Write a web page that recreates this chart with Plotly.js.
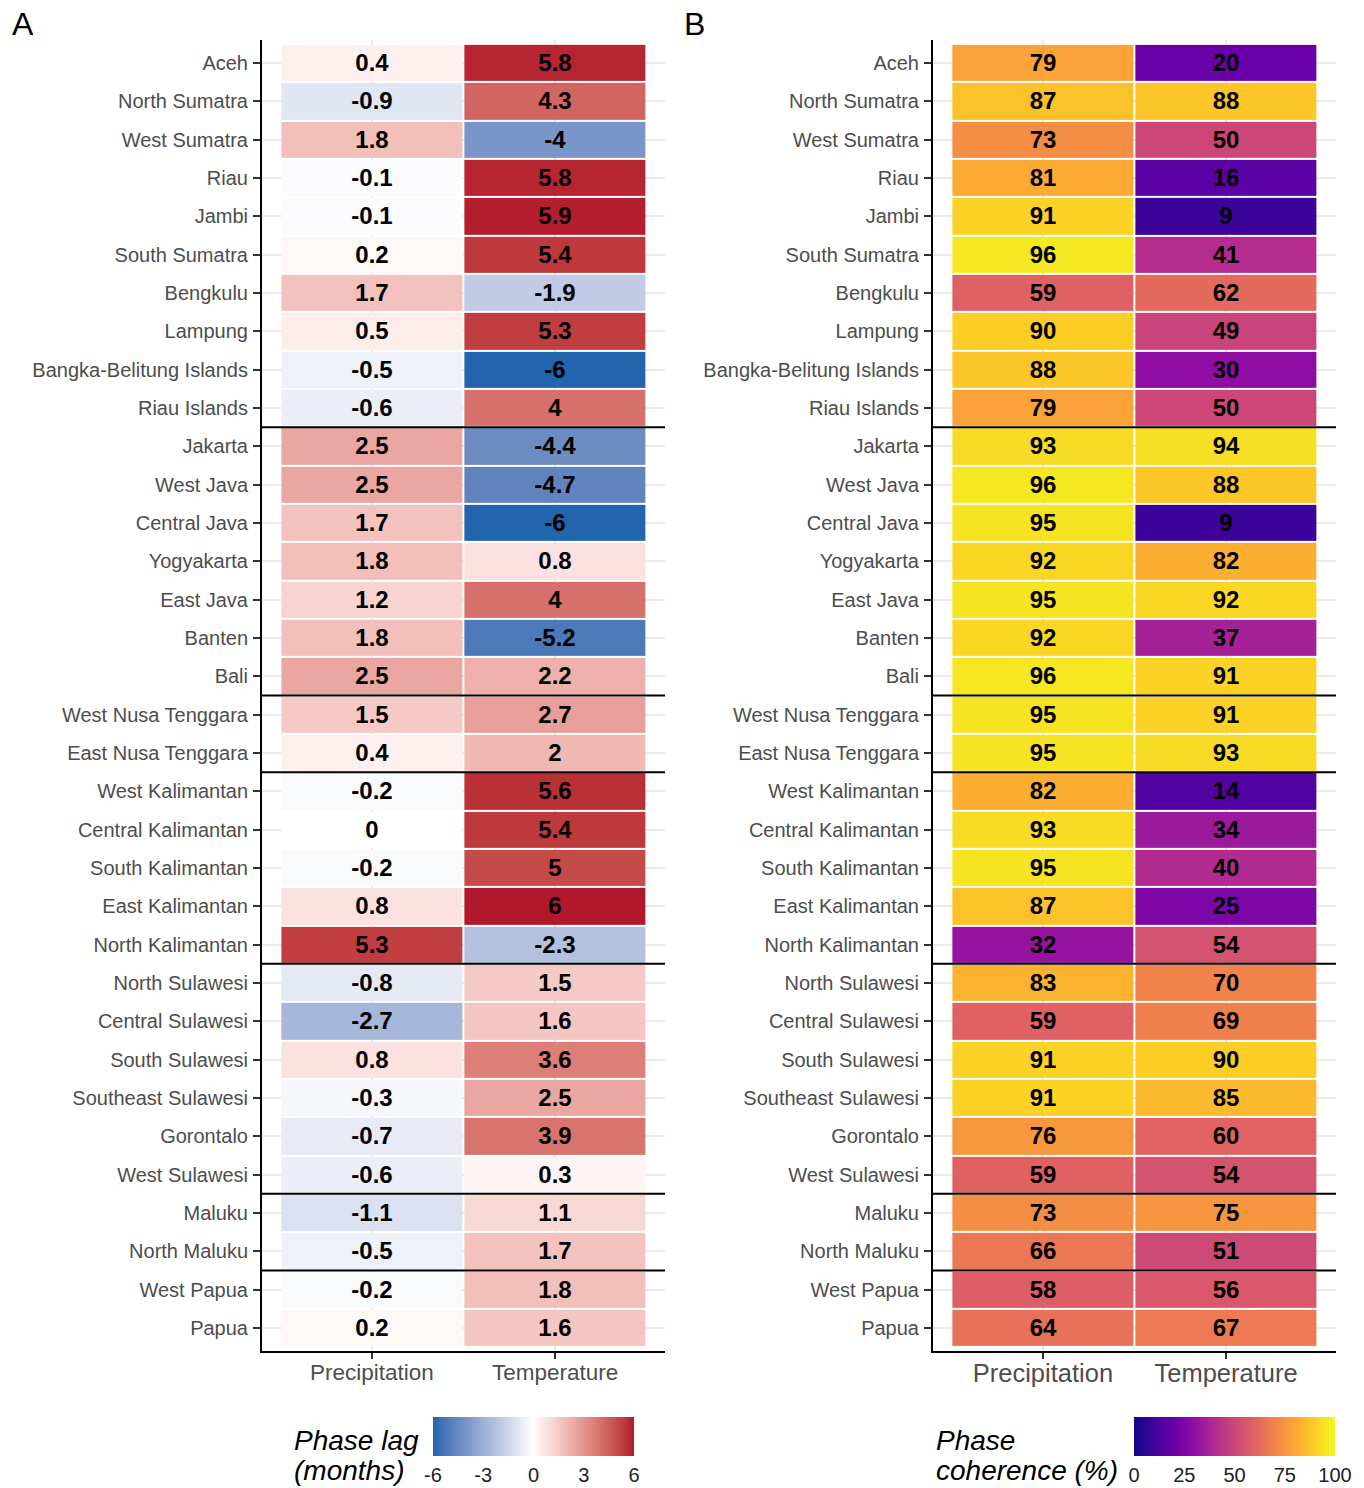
<!DOCTYPE html>
<html>
<head>
<meta charset="utf-8">
<script src="https://cdn.plot.ly/plotly-3.0.1.min.js"></script>
<style>
  html, body { margin: 0; padding: 0; background: #ffffff; }
  #chart { width: 1364px; height: 1488px; }
</style>
</head>
<body>
<div id="chart"></div>
<script>
// Provinces, top to bottom
const provinces = [
  'Aceh', 'North Sumatra', 'West Sumatra', 'Riau', 'Jambi', 'South Sumatra',
  'Bengkulu', 'Lampung', 'Bangka-Belitung Islands', 'Riau Islands',
  'Jakarta', 'West Java', 'Central Java', 'Yogyakarta', 'East Java', 'Banten', 'Bali',
  'West Nusa Tenggara', 'East Nusa Tenggara',
  'West Kalimantan', 'Central Kalimantan', 'South Kalimantan', 'East Kalimantan', 'North Kalimantan',
  'North Sulawesi', 'Central Sulawesi', 'South Sulawesi', 'Southeast Sulawesi', 'Gorontalo', 'West Sulawesi',
  'Maluku', 'North Maluku',
  'West Papua', 'Papua'
];

const variables = ['Precipitation', 'Temperature'];

// Phase lag (months)
const lagPrecipitation = [
  0.4, -0.9, 1.8, -0.1, -0.1, 0.2, 1.7, 0.5, -0.5, -0.6,
  2.5, 2.5, 1.7, 1.8, 1.2, 1.8, 2.5,
  1.5, 0.4,
  -0.2, 0, -0.2, 0.8, 5.3,
  -0.8, -2.7, 0.8, -0.3, -0.7, -0.6,
  -1.1, -0.5,
  -0.2, 0.2
];
const lagTemperature = [
  5.8, 4.3, -4, 5.8, 5.9, 5.4, -1.9, 5.3, -6, 4,
  -4.4, -4.7, -6, 0.8, 4, -5.2, 2.2,
  2.7, 2,
  5.6, 5.4, 5, 6, -2.3,
  1.5, 1.6, 3.6, 2.5, 3.9, 0.3,
  1.1, 1.7,
  1.8, 1.6
];

// Phase coherence (%)
const cohPrecipitation = [
  79, 87, 73, 81, 91, 96, 59, 90, 88, 79,
  93, 96, 95, 92, 95, 92, 96,
  95, 95,
  82, 93, 95, 87, 32,
  83, 59, 91, 91, 76, 59,
  73, 66,
  58, 64
];
const cohTemperature = [
  20, 88, 50, 16, 9, 41, 62, 49, 30, 50,
  94, 88, 9, 82, 92, 37, 91,
  91, 93,
  14, 34, 40, 25, 54,
  70, 69, 90, 85, 60, 54,
  75, 51,
  56, 67
];

// Region boundaries (between these row positions)
const regionBreaks = [9.5, 16.5, 18.5, 23.5, 29.5, 31.5];

const lagTicks = [-6, -3, 0, 3, 6];
const cohTicks = [0, 25, 50, 75, 100];

// Plasma palette stops
const plasmaScale = [
  [0.0, '#0d0887'], [0.1, '#41049d'], [0.2, '#6a00a8'], [0.3, '#8f0da4'],
  [0.4, '#b12a90'], [0.5, '#cc4778'], [0.6, '#e16462'], [0.7, '#f2844b'],
  [0.8, '#fca636'], [0.9, '#fcce25'], [1.0, '#f0f921']
];

// ---- diverging colour scale, interpolated in CIE Lab ----
function hexToRgb(h) {
  h = h.replace('#', '');
  return [0, 2, 4].map(i => parseInt(h.substr(i, 2), 16));
}
function srgbToLin(c) { c /= 255; return c <= 0.04045 ? c / 12.92 : Math.pow((c + 0.055) / 1.055, 2.4); }
function linToSrgb(c) { const v = c <= 0.0031308 ? 12.92 * c : 1.055 * Math.pow(c, 1 / 2.4) - 0.055; return Math.max(0, Math.min(255, Math.round(v * 255))); }
const WHITE = [0.95047, 1.0, 1.08883];
function rgbToLab(rgb) {
  const [r, g, b] = rgb.map(srgbToLin);
  const X = r * 0.4124 + g * 0.3576 + b * 0.1805;
  const Y = r * 0.2126 + g * 0.7152 + b * 0.0722;
  const Z = r * 0.0193 + g * 0.1192 + b * 0.9505;
  const f = t => t > 0.008856 ? Math.cbrt(t) : 7.787 * t + 16 / 116;
  const fx = f(X / WHITE[0]), fy = f(Y / WHITE[1]), fz = f(Z / WHITE[2]);
  return [116 * fy - 16, 500 * (fx - fy), 200 * (fy - fz)];
}
function labToRgb(lab) {
  const fy = (lab[0] + 16) / 116, fx = fy + lab[1] / 500, fz = fy - lab[2] / 200;
  const inv = t => t * t * t > 0.008856 ? t * t * t : (t - 16 / 116) / 7.787;
  const X = inv(fx) * WHITE[0], Y = inv(fy) * WHITE[1], Z = inv(fz) * WHITE[2];
  const r = X * 3.2406 + Y * -1.5372 + Z * -0.4986;
  const g = X * -0.9689 + Y * 1.8758 + Z * 0.0415;
  const b = X * 0.0557 + Y * -0.2040 + Z * 1.0570;
  return 'rgb(' + [r, g, b].map(linToSrgb).join(',') + ')';
}
function divergingScale(low, mid, high, n) {
  const L = rgbToLab(hexToRgb(low)), M = rgbToLab(hexToRgb(mid)), H = rgbToLab(hexToRgb(high));
  const out = [];
  for (let i = 0; i <= n; i++) {
    const t = i / n;
    let a, b, u;
    if (t <= 0.5) { a = L; b = M; u = t / 0.5; } else { a = M; b = H; u = (t - 0.5) / 0.5; }
    out.push([t, labToRgb([0, 1, 2].map(k => a[k] + (b[k] - a[k]) * u))]);
  }
  return out;
}
const lagScale = divergingScale('#2166ac', '#ffffff', '#b2182b', 40);

// ---- traces ----
const lagZ = provinces.map((_, i) => [lagPrecipitation[i], lagTemperature[i]]);
const cohZ = provinces.map((_, i) => [cohPrecipitation[i], cohTemperature[i]]);
const toText = z => z.map(row => row.map(v => String(v)));

const cellFont = { family: 'Liberation Sans, Arial, sans-serif', size: 24, color: '#000000', weight: 'bold' };
const W = 1364, H = 1488;

function colorbar(cx, ticks) {
  return {
    orientation: 'h', x: cx / W, xanchor: 'center', y: 1 - 1417 / H, yanchor: 'top',
    len: 201, lenmode: 'pixels', thickness: 39, xpad: 0, ypad: 0,
    outlinewidth: 0, tickvals: ticks, ticktext: ticks.map(String),
    ticks: 'outside', tickcolor: 'rgba(255,255,255,0)', ticklen: 2, tickwidth: 1,
    tickfont: { family: 'Liberation Sans, Arial, sans-serif', size: 20, color: '#222222' }
  };
}

const traceLag = {
  type: 'heatmap', x: variables, y: provinces, z: lagZ,
  text: toText(lagZ), texttemplate: '%{text}', textfont: cellFont,
  colorscale: lagScale, zmin: -6, zmax: 6,
  xgap: 2, ygap: 2, hoverinfo: 'skip',
  xaxis: 'x', yaxis: 'y',
  colorbar: colorbar(533.5, lagTicks)
};

const traceCoh = {
  type: 'heatmap', x: variables, y: provinces, z: cohZ,
  text: toText(cohZ), texttemplate: '%{text}', textfont: cellFont,
  colorscale: plasmaScale, zmin: 0, zmax: 100,
  xgap: 2, ygap: 2, hoverinfo: 'skip',
  xaxis: 'x2', yaxis: 'y2',
  colorbar: colorbar(1234.5, cohTicks)
};

// ---- axes ----
const yDomain = [1 - 1351 / H, 1 - 40 / H];
function xAxis(domain, anchor, fontSize, standoff) {
  return {
    domain: domain, anchor: anchor, type: 'category', categoryarray: variables,
    range: [-0.6, 1.6], showline: true, linecolor: '#000000', linewidth: 2,
    ticks: 'outside', ticklen: 6, tickwidth: 2, tickcolor: '#333333', ticklabelstandoff: standoff,
    tickfont: { family: 'Liberation Sans, Arial, sans-serif', size: fontSize, color: '#4d4d4d' },
    showgrid: true, gridcolor: '#ebebeb', gridwidth: 2, zeroline: false, fixedrange: true
  };
}
function yAxis(anchor) {
  return {
    domain: yDomain, anchor: anchor, type: 'category', categoryarray: provinces,
    range: [provinces.length - 0.4, -0.6], showline: true, linecolor: '#000000', linewidth: 2,
    ticks: 'outside', ticklen: 7, tickwidth: 2, tickcolor: '#333333', ticklabelstandoff: 1,
    tickfont: { family: 'Liberation Sans, Arial, sans-serif', size: 20, color: '#4d4d4d' },
    showgrid: true, gridcolor: '#ebebeb', gridwidth: 2, zeroline: false, fixedrange: true
  };
}

const shapes = [];
['x', 'x2'].forEach((xa, k) => {
  const ya = k === 0 ? 'y' : 'y2';
  regionBreaks.forEach(b => {
    shapes.push({
      type: 'line', xref: xa + ' domain', yref: ya, x0: 0, x1: 1, y0: b, y1: b,
      line: { color: '#000000', width: 2 }, layer: 'above'
    });
  });
});

const titleFont = { family: 'Liberation Sans, Arial, sans-serif', size: 28, color: '#000000' };
const panelFont = { family: 'Liberation Sans, Arial, sans-serif', size: 32, color: '#000000' };
function note(text, px, py, font) {
  return { text: text, x: px / W, y: 1 - py / H, xref: 'paper', yref: 'paper', xanchor: 'left', yanchor: 'middle', showarrow: false, font: font };
}
const annotations = [
  note('A', 10, 24, panelFont),
  note('B', 682, 24, panelFont),
  note('<i>Phase lag</i>', 292, 1440, titleFont),
  note('<i>(months)</i>', 292, 1470, titleFont),
  note('<i>Phase</i>', 934, 1440, titleFont),
  note('<i>coherence (%)</i>', 934, 1470, titleFont)
];

const layout = {
  width: W, height: H,
  margin: { l: 0, r: 0, t: 0, b: 0, autoexpand: false },
  paper_bgcolor: '#ffffff', plot_bgcolor: '#ffffff',
  showlegend: false,
  xaxis: xAxis([262 / W, 665 / W], 'y', 22.5, -6),
  yaxis: yAxis('x'),
  xaxis2: xAxis([933 / W, 1336 / W], 'y2', 25.5, -8),
  yaxis2: yAxis('x2'),
  shapes: shapes,
  annotations: annotations
};

Plotly.newPlot('chart', [traceLag, traceCoh], layout, { displayModeBar: false, staticPlot: true });
</script>
</body>
</html>
